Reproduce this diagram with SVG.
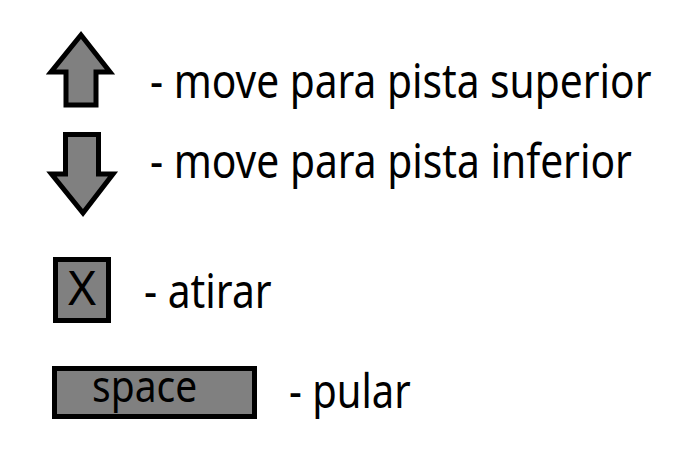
<svg xmlns="http://www.w3.org/2000/svg" width="675" height="455" viewBox="0 0 675 455">
<style>
.key{fill:#808080;stroke:#000;stroke-width:5;stroke-linejoin:miter}
.t{font-family:"Noto Sans","Open Sans",sans-serif;font-size:47px;fill:#000}
</style>
<rect width="675" height="455" fill="#fff"/>
<g id="up">
<path class="key" d="M81,35 L110,72 L96,72 L96,105 L66,105 L66,72 L51,72 Z"/>
<text class="t" transform="translate(150,98) scale(0.866,1)">- move para pista superior</text>
</g>
<g id="down">
<path class="key" d="M65.5,134.5 L98.5,134.5 L98.5,174 L113,174 L83,213 L51.5,174 L65.5,174 Z"/>
<text class="t" transform="translate(150,178) scale(0.867,1)">- move para pista inferior</text>
</g>
<g id="x">
<rect class="key" x="55.5" y="259.5" width="53" height="61"/>
<text class="t" x="82" y="305" text-anchor="middle" style="font-size:48px">X</text>
<text class="t" transform="translate(144,308) scale(0.868,1)">- atirar</text>
</g>
<g id="space">
<rect class="key" x="54.5" y="368.5" width="200" height="48"/>
<text class="t" transform="translate(92,402) scale(0.886,1)" style="font-size:44px">space</text>
<text class="t" transform="translate(289,408) scale(0.85,1)">- pular</text>
</g>
<g id="connectors"/>
</svg>
